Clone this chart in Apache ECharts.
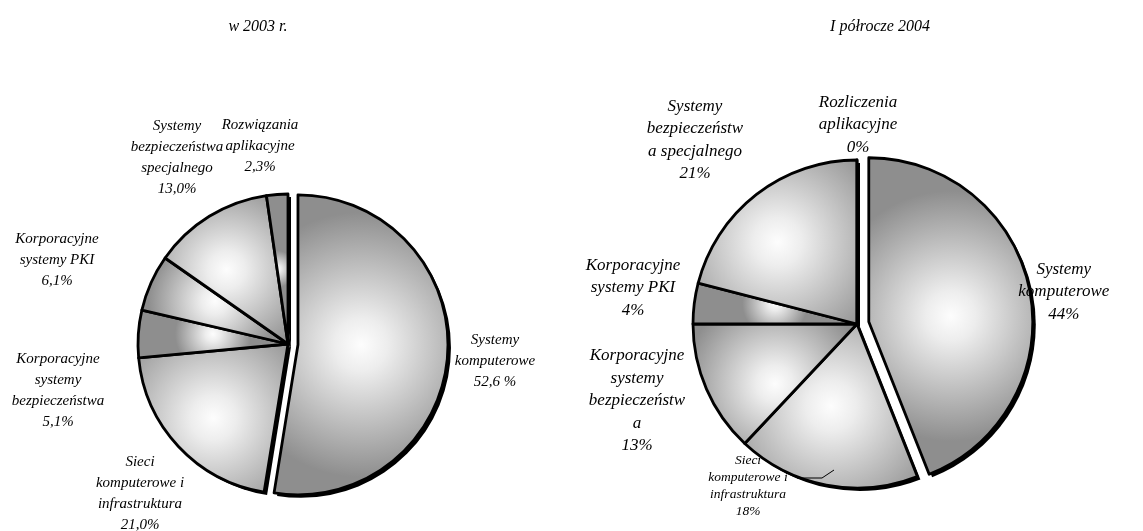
<!DOCTYPE html>
<html>
<head>
<meta charset="utf-8">
<script src="https://cdn.jsdelivr.net/npm/echarts@6/dist/echarts.min.js"></script>
<style>
  html, body { margin: 0; padding: 0; background: #fff; }
  #chart { width: 1143px; height: 531px; }
</style>
</head>
<body>
<div id="chart"></div>
<script>
// dane z wykresu
const titles = ['w 2003 r.', 'I półrocze 2004'];

const names2003 = [
  'Systemy\nkomputerowe',
  'Sieci\nkomputerowe i\ninfrastruktura',
  'Korporacyjne\nsystemy\nbezpieczeństwa',
  'Korporacyjne\nsystemy PKI',
  'Systemy\nbezpieczeństwa\nspecjalnego',
  'Rozwiązania\naplikacyjne'
];
const values2003 = [52.6, 21.0, 5.1, 6.1, 13.0, 2.3];
const pctSep2003 = [' ', '', '', '', '', ''];

const names2004 = [
  'Systemy\nkomputerowe',
  'Sieci\nkomputerowe i\ninfrastruktura',
  'Korporacyjne\nsystemy\nbezpieczeństw\na',
  'Korporacyjne\nsystemy PKI',
  'Systemy\nbezpieczeństw\na specjalnego',
  'Rozliczenia\naplikacyjne'
];
const values2004 = [44, 18, 13, 4, 21, 0];

// pozycje etykiet (środek bloku tekstu)
const labelPos2003 = [[485, 360], [140, 494], [58, 391], [57, 260], [177, 158], [260, 146]];
const labelPos2004 = [[1052, 294], [748, 486], [637, 401], [633, 288], [695, 140], [858, 125]];
// linia odniesienia dla małej etykiety (Sieci, 2004)
const leader2004 = [[834, 470], [822, 478], [797, 478]];

const font = 'Liberation Serif, Times New Roman, serif';

const sliceColor = new echarts.graphic.RadialGradient(0.5, 0.5, 0.75, [
  { offset: 0, color: '#fdfdfd' },
  { offset: 0.2, color: '#ededed' },
  { offset: 1, color: '#8e8e8e' }
]);

// cień: czarna kopia koła przesunięta w prawo-dół
const makeShadow = (names, values, center, radius, offset) => ({
  type: 'pie',
  center: [center[0] + 3, center[1] + 3],
  radius: radius,
  startAngle: 90,
  clockwise: true,
  selectedMode: 'multiple',
  selectedOffset: offset,
  silent: true,
  animation: false,
  emphasis: { disabled: true },
  itemStyle: { color: '#000', borderWidth: 0 },
  label: { show: false },
  labelLine: { show: false },
  data: names.map((n, i) => ({ name: n, value: values[i], selected: i === 0 }))
});

const lineStyle = (fontSize, lineHeight, width) => ({
  width: width,
  align: 'center',
  fontFamily: font,
  fontStyle: 'italic',
  fontSize: fontSize,
  lineHeight: lineHeight,
  color: '#000'
});

const makeSeries = (names, values, fmt, center, radius, offset, pos, fontSize, lineHeight) => ({
  type: 'pie',
  center: center,
  radius: radius,
  startAngle: 90,
  clockwise: true,
  selectedMode: 'multiple',
  selectedOffset: offset,
  avoidLabelOverlap: false,
  animation: false,
  emphasis: { disabled: true },
  itemStyle: {
    color: sliceColor,
    borderColor: '#000',
    borderWidth: 2.8
  },
  label: {
    show: true,
    position: 'outside',
    // każda linia wyśrodkowana w stałej szerokości
    formatter: (p) => (p.name + '\n' + fmt(p.value, p.dataIndex))
      .split('\n').map((l) => '{c|' + l + '}').join('\n'),
    rich: { c: lineStyle(fontSize, lineHeight, 130) }
  },
  labelLine: { show: false },
  // przesunięcie etykiety tak, by jej środek trafił w zadany punkt
  labelLayout: (p) => {
    const r = p.labelRect;
    const t = pos[p.dataIndex];
    return {
      dx: t[0] - (r.x + r.width / 2),
      dy: t[1] - (r.y + r.height / 2)
    };
  },
  data: names.map((n, i) => ({ name: n, value: values[i], selected: i === 0 }))
});

const c2003 = [288, 344], r2003 = 150;
const c2004 = [857, 324], r2004 = 164;

const s2003 = makeSeries(
  names2003, values2003,
  (v, i) => v.toFixed(1).replace('.', ',') + pctSep2003[i] + '%',
  c2003, r2003, 10, labelPos2003, 15, 21
);
const s2004 = makeSeries(
  names2004, values2004,
  (v) => v + '%',
  c2004, r2004, 12, labelPos2004, 17, 22.5
);
// mniejsza etykieta
s2004.data[1].label = { rich: { c: lineStyle(13.5, 17, 96) } };

const chart = echarts.init(document.getElementById('chart'), null, { renderer: 'canvas' });
chart.setOption({
  backgroundColor: '#fff',
  animation: false,
  graphic: [
    { type: 'text', x: 258, y: 27, style: { text: titles[0], font: 'italic 16px ' + font, fill: '#000', align: 'center', verticalAlign: 'middle' } },
    { type: 'text', x: 880, y: 27, style: { text: titles[1], font: 'italic 16px ' + font, fill: '#000', align: 'center', verticalAlign: 'middle' } },
    { type: 'polyline', z: 100, shape: { points: leader2004 }, style: { stroke: '#000', lineWidth: 1, fill: null } }
  ],
  series: [
    makeShadow(names2003, values2003, c2003, r2003, 10),
    makeShadow(names2004, values2004, c2004, r2004, 12),
    s2003,
    s2004
  ]
});

window.addEventListener('resize', () => {
  chart && chart.resize();
});
</script>
</body>
</html>
